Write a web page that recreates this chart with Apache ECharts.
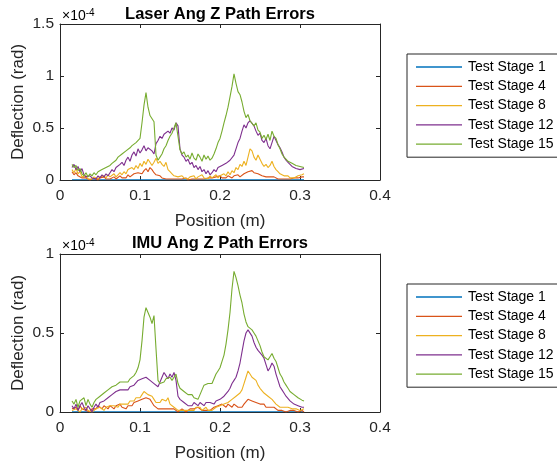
<!DOCTYPE html>
<html>
<head>
<meta charset="utf-8">
<script src="https://cdn.jsdelivr.net/npm/echarts@6/dist/echarts.min.js"></script>
<style>
  html, body { margin: 0; padding: 0; background: #fff; }
  #chart { width: 557px; height: 463px; }
</style>
</head>
<body>
<div id="chart"></div>
<script>
// position along the path (m)
const positions = [
  0.015,0.0175,0.02,0.0225,0.025,0.0275,0.03,0.0325,0.035,0.0375,
  0.04,0.0425,0.045,0.0475,0.05,0.0525,0.055,0.0575,0.06,0.0625,
  0.065,0.0675,0.07,0.0725,0.075,0.0775,0.08,0.0825,0.085,0.0875,
  0.09,0.0925,0.095,0.0975,0.1,0.1025,0.105,0.1075,0.11,0.1125,
  0.115,0.1175,0.12,0.1225,0.125,0.1275,0.13,0.1325,0.135,0.1375,
  0.14,0.1425,0.145,0.1475,0.15,0.1525,0.155,0.1575,0.16,0.1625,
  0.165,0.1675,0.17,0.1725,0.175,0.1775,0.18,0.1825,0.185,0.1875,
  0.19,0.1925,0.195,0.1975,0.2,0.2025,0.205,0.2075,0.21,0.2125,
  0.215,0.2175,0.22,0.2225,0.225,0.2275,0.23,0.2325,0.235,0.2375,
  0.24,0.2425,0.245,0.2475,0.25,0.2525,0.255,0.2575,0.26,0.2625,
  0.265,0.2675,0.27,0.2725,0.275,0.2775,0.28,0.2825,0.285,0.2875,
  0.29,0.2925,0.295,0.2975,0.3,0.3025,0.305
];

const stageNames = ["Test Stage 1", "Test Stage 4", "Test Stage 8", "Test Stage 12", "Test Stage 15"];
const stageColors = ["#0072BD", "#D95319", "#EDB120", "#7E2F8E", "#77AC30"];

// deflection values in units of 1e-4 rad
const laserStage1 = [
  0.002,0.002,0.002,0.002,0.002,0.002,0.002,0.002,0.002,0.002,
  0.002,0.002,0.002,0.002,0.002,0.002,0.002,0.002,0.002,0.002,
  0.002,0.002,0.002,0.002,0.002,0.002,0.002,0.002,0.002,0.002,
  0.002,0.002,0.002,0.002,0.002,0.002,0.002,0.002,0.002,0.002,
  0.002,0.002,0.002,0.002,0.002,0.002,0.002,0.002,0.002,0.002,
  0.002,0.002,0.002,0.002,0.002,0.002,0.002,0.002,0.002,0.002,
  0.002,0.002,0.002,0.002,0.002,0.002,0.002,0.002,0.002,0.002,
  0.002,0.002,0.002,0.002,0.002,0.002,0.002,0.002,0.002,0.002,
  0.002,0.002,0.002,0.002,0.002,0.002,0.002,0.002,0.002,0.002,
  0.002,0.002,0.002,0.002,0.002,0.002,0.002,0.002,0.002,0.002,
  0.002,0.002,0.002,0.002,0.002,0.002,0.002,0.002,0.002,0.002,
  0.002,0.002,0.002,0.002,0.002,0.002,0.002
];
const laserStage4 = [
  0.08,0.05,0.07,0.04,0.05,0.02,0.01,0.02,0.01,0.00,
  0.01,0.02,0.01,0.00,0.02,0.01,0.03,0.01,0.02,0.01,
  0.02,0.03,0.01,0.02,0.04,0.02,0.03,0.02,0.05,0.03,
  0.04,0.06,0.05,0.07,0.08,0.06,0.09,0.11,0.08,0.12,
  0.10,0.07,0.05,0.06,0.04,0.02,0.03,0.01,0.02,0.01,
  0.02,0.01,0.00,0.01,0.02,0.01,0.01,0.02,0.00,0.01,
  0.01,0.02,0.01,0.00,0.01,0.02,0.01,0.01,0.02,0.01,
  0.02,0.01,0.03,0.02,0.04,0.02,0.03,0.02,0.04,0.03,
  0.02,0.04,0.03,0.05,0.03,0.04,0.06,0.05,0.08,0.07,
  0.09,0.07,0.08,0.06,0.05,0.04,0.05,0.03,0.04,0.03,
  0.02,0.03,0.02,0.01,0.02,0.01,0.02,0.01,0.02,0.01,
  0.01,0.02,0.01,0.02,0.02,0.03,0.03
];
const laserStage8 = [
  0.10,0.07,0.11,0.06,0.08,0.03,0.02,0.04,0.01,0.02,
  0.01,0.03,0.02,0.01,0.03,0.02,0.04,0.02,0.05,0.03,
  0.04,0.06,0.03,0.05,0.07,0.05,0.08,0.06,0.10,0.09,
  0.12,0.10,0.14,0.11,0.16,0.13,0.18,0.15,0.20,0.21,
  0.14,0.17,0.21,0.16,0.18,0.15,0.13,0.17,0.10,0.08,
  0.06,0.04,0.05,0.03,0.02,0.04,0.02,0.03,0.01,0.03,
  0.02,0.04,0.01,0.03,0.02,0.05,0.02,0.03,0.01,0.04,
  0.02,0.03,0.05,0.02,0.04,0.03,0.06,0.04,0.08,0.05,
  0.09,0.07,0.12,0.10,0.15,0.13,0.18,0.14,0.22,0.30,
  0.28,0.22,0.19,0.24,0.20,0.16,0.13,0.15,0.12,0.14,
  0.18,0.13,0.10,0.08,0.06,0.05,0.04,0.03,0.04,0.02,
  0.03,0.02,0.03,0.04,0.05,0.05,0.06
];
const laserStage12 = [
  0.12,0.15,0.10,0.13,0.08,0.11,0.05,0.03,0.02,0.04,
  0.02,0.03,0.01,0.04,0.02,0.05,0.03,0.06,0.04,0.07,
  0.10,0.08,0.12,0.11,0.15,0.17,0.14,0.19,0.22,0.18,
  0.24,0.27,0.23,0.30,0.26,0.29,0.33,0.28,0.31,0.32,
  0.28,0.25,0.35,0.38,0.42,0.40,0.44,0.43,0.47,0.45,
  0.50,0.48,0.55,0.52,0.30,0.24,0.22,0.18,0.20,0.15,
  0.17,0.12,0.14,0.10,0.13,0.08,0.10,0.06,0.09,0.05,
  0.07,0.10,0.08,0.12,0.11,0.14,0.13,0.16,0.15,0.19,
  0.18,0.24,0.30,0.36,0.40,0.47,0.53,0.50,0.55,0.57,
  0.56,0.52,0.47,0.43,0.45,0.38,0.36,0.40,0.33,0.30,
  0.36,0.42,0.38,0.34,0.31,0.27,0.22,0.19,0.17,0.15,
  0.13,0.12,0.11,0.10,0.10,0.10,0.11
];
const laserStage15 = [
  0.15,0.12,0.14,0.09,0.11,0.06,0.04,0.07,0.03,0.06,
  0.04,0.07,0.05,0.08,0.07,0.10,0.09,0.12,0.11,0.14,
  0.16,0.15,0.19,0.22,0.21,0.25,0.24,0.28,0.27,0.31,
  0.33,0.32,0.36,0.37,0.40,0.55,0.72,0.84,0.70,0.62,
  0.63,0.56,0.24,0.19,0.22,0.25,0.30,0.33,0.38,0.42,
  0.45,0.50,0.55,0.42,0.29,0.25,0.27,0.22,0.24,0.20,
  0.26,0.21,0.19,0.25,0.22,0.18,0.24,0.20,0.23,0.19,
  0.21,0.25,0.30,0.36,0.40,0.47,0.55,0.62,0.70,0.80,
  0.90,1.02,0.93,0.85,0.82,0.75,0.66,0.60,0.63,0.57,
  0.58,0.52,0.55,0.48,0.46,0.40,0.43,0.39,0.44,0.38,
  0.47,0.42,0.40,0.34,0.30,0.25,0.22,0.20,0.18,0.17,
  0.16,0.15,0.14,0.13,0.13,0.12,0.12
];

const imuStage1 = [
  0.002,0.002,0.002,0.002,0.002,0.002,0.002,0.002,0.002,0.002,
  0.002,0.002,0.002,0.002,0.002,0.002,0.002,0.002,0.002,0.002,
  0.002,0.002,0.002,0.002,0.002,0.002,0.002,0.002,0.002,0.002,
  0.002,0.002,0.002,0.002,0.002,0.002,0.002,0.002,0.002,0.002,
  0.002,0.002,0.002,0.002,0.002,0.002,0.002,0.002,0.002,0.002,
  0.002,0.002,0.002,0.002,0.002,0.002,0.002,0.002,0.002,0.002,
  0.002,0.002,0.002,0.002,0.002,0.002,0.002,0.002,0.002,0.002,
  0.002,0.002,0.002,0.002,0.002,0.002,0.002,0.002,0.002,0.002,
  0.002,0.002,0.002,0.002,0.002,0.002,0.002,0.002,0.002,0.002,
  0.002,0.002,0.002,0.002,0.002,0.002,0.002,0.002,0.002,0.002,
  0.002,0.002,0.002,0.002,0.002,0.002,0.002,0.002,0.002,0.002,
  0.002,0.002,0.002,0.002,0.002,0.002,0.002
];
const imuStage4 = [
  0.02,0.01,0.03,0.01,0.04,0.02,0.03,0.01,0.02,0.00,
  0.02,0.03,0.02,0.04,0.03,0.02,0.04,0.03,0.02,0.04,
  0.03,0.02,0.04,0.03,0.05,0.03,0.04,0.02,0.04,0.05,
  0.04,0.06,0.05,0.07,0.06,0.08,0.07,0.09,0.10,0.08,
  0.06,0.04,0.03,0.02,0.03,0.02,0.01,0.02,0.01,0.02,
  0.01,0.02,0.01,0.00,0.01,0.02,0.01,0.00,0.01,0.02,
  0.01,0.02,0.01,0.03,0.02,0.01,0.02,0.01,0.02,0.01,
  0.02,0.03,0.02,0.04,0.03,0.05,0.04,0.03,0.05,0.04,
  0.03,0.05,0.04,0.03,0.04,0.03,0.05,0.06,0.08,0.09,
  0.07,0.08,0.06,0.07,0.05,0.04,0.05,0.03,0.04,0.03,
  0.02,0.03,0.02,0.01,0.02,0.01,0.01,0.00,0.01,0.01,
  0.00,0.01,0.01,0.00,0.01,0.01,0.00
];
const imuStage8 = [
  0.01,0.00,0.02,0.01,0.00,0.02,0.01,0.03,0.01,0.02,
  0.00,0.01,0.02,0.01,0.03,0.02,0.01,0.03,0.02,0.04,
  0.03,0.04,0.04,0.03,0.05,0.04,0.05,0.06,0.05,0.07,
  0.08,0.07,0.09,0.10,0.09,0.11,0.13,0.12,0.11,0.12,
  0.10,0.08,0.06,0.05,0.06,0.08,0.09,0.07,0.09,0.05,
  0.04,0.03,0.02,0.01,0.02,0.01,0.02,0.01,0.00,0.01,
  0.02,0.01,0.03,0.02,0.03,0.01,0.02,0.03,0.01,0.02,
  0.01,0.02,0.03,0.02,0.04,0.03,0.05,0.04,0.06,0.05,
  0.08,0.07,0.10,0.09,0.12,0.14,0.18,0.22,0.26,0.24,
  0.22,0.23,0.20,0.17,0.15,0.14,0.12,0.13,0.10,0.09,
  0.08,0.07,0.05,0.04,0.03,0.04,0.03,0.02,0.03,0.02,
  0.02,0.01,0.02,0.02,0.01,0.02,0.02
];
const imuStage12 = [
  0.04,0.02,0.05,0.01,0.04,0.06,0.03,0.01,0.04,0.02,
  0.00,0.03,0.05,0.03,0.06,0.05,0.07,0.06,0.09,0.08,
  0.11,0.10,0.13,0.12,0.14,0.13,0.14,0.15,0.14,0.16,
  0.15,0.17,0.18,0.20,0.20,0.21,0.20,0.22,0.21,0.20,
  0.19,0.18,0.17,0.16,0.19,0.22,0.25,0.23,0.21,0.24,
  0.22,0.25,0.20,0.10,0.08,0.07,0.06,0.05,0.04,0.05,
  0.04,0.06,0.05,0.04,0.06,0.05,0.04,0.06,0.05,0.06,
  0.06,0.05,0.07,0.06,0.08,0.07,0.10,0.09,0.13,0.15,
  0.18,0.20,0.22,0.26,0.31,0.38,0.45,0.50,0.52,0.51,
  0.48,0.44,0.41,0.39,0.38,0.36,0.34,0.30,0.26,0.28,
  0.31,0.29,0.24,0.20,0.16,0.14,0.12,0.10,0.09,0.07,
  0.06,0.05,0.05,0.04,0.04,0.03,0.03
];
const imuStage15 = [
  0.07,0.05,0.08,0.03,0.07,0.06,0.09,0.04,0.08,0.05,
  0.03,0.06,0.08,0.07,0.10,0.09,0.12,0.11,0.14,0.13,
  0.16,0.15,0.17,0.16,0.19,0.18,0.19,0.20,0.19,0.21,
  0.21,0.23,0.25,0.28,0.33,0.45,0.60,0.66,0.63,0.60,
  0.56,0.61,0.40,0.20,0.18,0.17,0.19,0.21,0.20,0.22,
  0.20,0.22,0.24,0.18,0.15,0.14,0.13,0.12,0.11,0.10,
  0.11,0.09,0.10,0.08,0.11,0.14,0.17,0.16,0.18,0.17,
  0.18,0.21,0.24,0.26,0.28,0.32,0.36,0.43,0.52,0.63,
  0.78,0.89,0.85,0.80,0.74,0.69,0.62,0.57,0.54,0.55,
  0.52,0.50,0.48,0.45,0.42,0.38,0.35,0.36,0.33,0.35,
  0.37,0.34,0.32,0.28,0.24,0.22,0.19,0.17,0.15,0.13,
  0.12,0.11,0.10,0.09,0.08,0.075,0.07
];

const laserTicks = { min: 0, max: 1.5, interval: 0.5 };
const imuTicks = { min: 0, max: 1, interval: 0.5 };

const FONT = "Liberation Sans, Arial, sans-serif";
const INK = "#262626";

const chart = echarts.init(document.getElementById("chart"));

function pairs(values) {
  return values.map((v, i) => [positions[i], v]);
}

const boxLine = { show: true, onZero: false, lineStyle: { color: INK, width: 1 } };
const inTick = { show: true, inside: true, length: 4, lineStyle: { color: INK } };

function mainX(gridIndex) {
  return {
    type: "value", gridIndex: gridIndex, position: "bottom", min: 0, max: 0.4, interval: 0.1,
    name: "Position (m)", nameLocation: "middle", nameGap: 33, nameMoveOverlap: false,
    nameTextStyle: { color: INK, fontFamily: FONT, fontSize: 17 },
    axisLine: boxLine, axisTick: inTick,
    axisLabel: { color: INK, fontFamily: FONT, fontSize: 15.5, margin: 8 },
    splitLine: { show: false }
  };
}
function sideX(gridIndex) {
  return {
    type: "value", gridIndex: gridIndex, position: "top", min: 0, max: 0.4, interval: 0.1,
    axisLine: boxLine, axisTick: inTick,
    axisLabel: { show: false }, splitLine: { show: false }
  };
}
function mainY(gridIndex, t) {
  return {
    type: "value", gridIndex: gridIndex, position: "left", min: t.min, max: t.max, interval: t.interval,
    name: "Deflection (rad)", nameLocation: "middle", nameGap: 33, nameMoveOverlap: false,
    nameTextStyle: { color: INK, fontFamily: FONT, fontSize: 17 },
    axisLine: boxLine, axisTick: inTick,
    axisLabel: { color: INK, fontFamily: FONT, fontSize: 15.5, margin: 6 },
    splitLine: { show: false }
  };
}
function sideY(gridIndex, t) {
  return {
    type: "value", gridIndex: gridIndex, position: "right", min: t.min, max: t.max, interval: t.interval,
    axisLine: boxLine, axisTick: inTick,
    axisLabel: { show: false }, splitLine: { show: false }
  };
}

function legendAt(top) {
  return {
    orient: "vertical", left: 407, top: top,
    data: stageNames,
    icon: "rect", itemWidth: 46, itemHeight: 1.3, itemGap: 3.3,
    padding: [5, 16, 5, 9],
    borderColor: "#262626", borderWidth: 1, backgroundColor: "#fff",
    textStyle: { color: "#000", fontFamily: FONT, fontSize: 14, lineHeight: 16, padding: [0, 0, 0, 1] },
    selectedMode: false
  };
}

const laserSets = [laserStage1, laserStage4, laserStage8, laserStage12, laserStage15];
const imuSets = [imuStage1, imuStage4, imuStage8, imuStage12, imuStage15];

const series = [];
laserSets.forEach((vals, k) => series.push({
  name: stageNames[k], type: "line", xAxisIndex: 0, yAxisIndex: 0,
  data: pairs(vals), showSymbol: false, symbol: "none",
  lineStyle: { width: 1.1, color: stageColors[k] }, itemStyle: { color: stageColors[k] },
  animation: false
}));
imuSets.forEach((vals, k) => series.push({
  name: stageNames[k], type: "line", xAxisIndex: 2, yAxisIndex: 2,
  data: pairs(vals), showSymbol: false, symbol: "none",
  lineStyle: { width: 1.1, color: stageColors[k] }, itemStyle: { color: stageColors[k] },
  animation: false
}));

const expRich = {
  a: { fontFamily: FONT, fontSize: 14, color: INK },
  b: { fontFamily: FONT, fontSize: 10, color: INK, verticalAlign: "top", padding: [0, 0, 7, 0] }
};

chart.setOption({
  animation: false,
  backgroundColor: "#fff",
  grid: [
    { left: 60, top: 24, width: 320, height: 156, show: false, containLabel: false, outerBoundsMode: "none" },
    { left: 60, top: 254, width: 320, height: 158, show: false, containLabel: false, outerBoundsMode: "none" }
  ],
  xAxis: [mainX(0), sideX(0), mainX(1), sideX(1)],
  yAxis: [mainY(0, laserTicks), sideY(0, laserTicks), mainY(1, imuTicks), sideY(1, imuTicks)],
  legend: [legendAt(54), legendAt(284)],
  graphic: [
    { type: "text", x: 220, y: 14, style: { text: "Laser Ang Z Path Errors", textAlign: "center", textVerticalAlign: "middle", font: "bold 16.5px " + FONT, fill: "#000" } },
    { type: "text", x: 220, y: 243, style: { text: "IMU Ang Z Path Errors", textAlign: "center", textVerticalAlign: "middle", font: "bold 16.5px " + FONT, fill: "#000" } },
    { type: "text", x: 62, y: 8, style: { text: "{a|×10}{b|-4}", rich: expRich } },
    { type: "text", x: 62, y: 238, style: { text: "{a|×10}{b|-4}", rich: expRich } }
  ],
  series: series
});
</script>
</body>
</html>
